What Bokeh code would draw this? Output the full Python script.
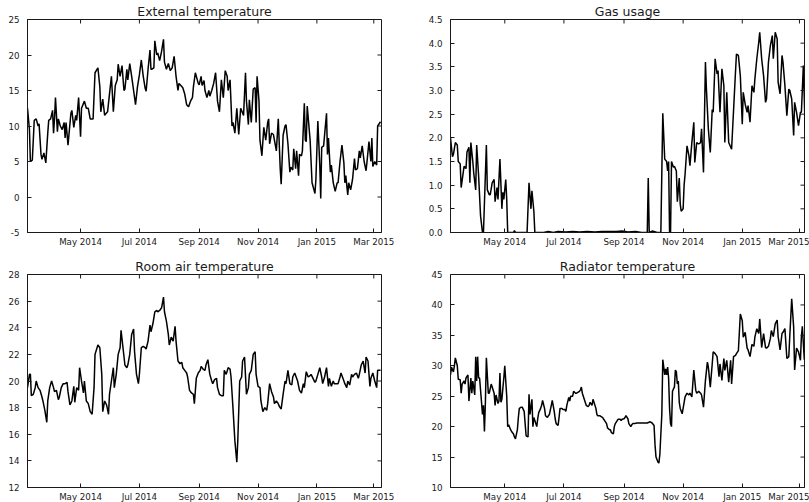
from datetime import datetime, timedelta
from bokeh.plotting import figure
from bokeh.layouts import column, row
from bokeh.models import (Range1d, MonthsTicker, DatetimeTickFormatter,
                          SingleIntervalTicker, NumeralTickFormatter,
                          ColumnDataSource)
from bokeh.embed import file_html
from bokeh.resources import INLINE

START = datetime(2014, 3, 7)   # day 0 of all series

# (day offset from START, value)
external_temp = [(0,12.5),(2,9.5),(3,5),(5,5.2),(7,10.8),(9,11),(11,10),(12,10.3),(14,6),(15,5.3),(17,6.2),(19,4.8),(21,9),(22,10.8),(24,11),(26,12.2),(27,9),(28,11),(29,14),(31,9.2),(32,11),(34,10),(36,9.5),(38,10.5),(39,8.3),(40,10.5),(42,7.3),(45,11.8),(46,12.2),(48,9.8),(50,11.5),(51,10.8),(53,14),(55,8.5),(56,12.5),(59,13.5),(61,12.5),(63,12.5),(65,11),(68,11),(70,17.5),(73,18.2),(75,15.5),(76,12),(78,13.8),(80,11.5),(81,11.7),(83,12),(85,14.5),(87,17),(89,12),(91,15.7),(93,16.5),(94,18.7),(96,17),(98,18.5),(100,15),(101,15.2),(103,18),(104,16.5),(106,18.8),(108,17),(110,15),(112,13),(114,15.5),(116,17.2),(118,19.3),(120,17),(122,15.3),(123,14.9),(125,18),(127,20.7),(128,18),(129,18),(131,18.2),(132,22),(134,20),(135,20.3),(137,19.2),(139,20.5),(141,22.2),(142,19),(144,18),(146,18.8),(148,17.8),(150,18.2),(152,19.8),(154,17),(156,15),(157,16),(159,15.7),(161,15.4),(163,14.5),(165,13),(167,12.7),(169,13.5),(171,14),(172,15.5),(174,17.5),(177,16),(178,15.8),(180,17),(181,15.7),(183,16.4),(184,15),(186,14),(188,15),(189,14.2),(191,15),(193,16),(195,17.5),(197,13.5),(199,12),(201,16.5),(203,14),(205,17.8),(207,17),(208,15),(210,16.5),(212,10),(213,10.5),(215,9),(217,12.5),(219,8.8),(221,12.5),(224,11.5),(226,17.5),(227,13.5),(229,10.2),(230,13.7),(232,10.5),(234,15.2),(236,15.4),(237,10.5),(238,17),(240,13.5),(241,8),(243,5.8),(245,9.8),(247,8),(249,10.5),(250,11),(251,7.5),(253,9),(255,8.8),(256,8),(258,6.5),(260,11),(262,4),(263,1.8),(265,8.7),(267,10),(268,10.2),(270,7.5),(272,3.5),(273,4.2),(275,3.8),(276,6.8),(278,4),(279,6.5),(281,3),(282,6),(284,5.8),(285,6.5),(287,13.2),(288,8),(289,7.8),(290,12.8),(293,8),(295,2),(298,0.5),(299,2.5),(301,10.7),(303,4.5),(304,-0.2),(305,7),(307,7.2),(310,11.8),(311,6),(312,8.3),(314,3.5),(315,4.5),(317,2),(319,0.8),(321,2),(322,2),(324,5),(326,7.3),(328,4.8),(329,2),(330,3),(332,0.3),(333,2),(335,1),(337,2.5),(339,5.4),(340,3.8),(342,4),(344,6.5),(345,5.5),(347,7.2),(349,5),(351,3.7),(352,5),(354,7.8),(356,5),(357,8.3),(358,4.3),(360,5),(362,4.5),(363,10),(366,10.6)]

gas_usage = [(-1,2.0),(1,1.6),(2,1.65),(4,1.9),(6,1.85),(7,1.5),(9,1.45),(10,0.95),(12,1.25),(13,1.4),(15,1.35),(16,1.7),(18,1.8),(19,1.05),(20,1.9),(22,1.5),(23,1.25),(25,0.9),(26,1.85),(28,1.2),(30,0.35),(32,0.0),(33,0.0),(36,1.85),(37,0.9),(39,0.8),(40,0.8),(42,1.05),(44,1.12),(45,0.65),(47,0.95),(48,0.7),(50,1.55),(52,0.5),(53,0.85),(54,0.7),(56,1.12),(57,0.7),(58,0.0),(61,0.0),(64,0.0),(65,0.04),(66,0.0),(78,0.0),(80,1.05),(82,0.5),(83,0.88),(85,0.45),(86,0.0),(95,0.0),(100,0.02),(105,0.0),(110,0.02),(118,0.01),(125,0.02),(132,0.01),(140,0.02),(148,0.01),(155,0.02),(162,0.02),(170,0.02),(176,0.03),(182,0.01),(190,0.02),(196,0.0),(200,0.0),(202,0.0),(203,1.15),(204,0.0),(207,0.03),(209,0.02),(212,0.0),(216,0.0),(218,2.52),(220,1.55),(222,1.5),(223,1.3),(224,1.5),(225,0.0),(226,0.0),(227,1.5),(229,1.38),(230,1.4),(232,1.3),(233,0.65),(235,1.15),(236,0.6),(237,0.45),(239,0.5),(240,1.0),(241,1.23),(243,1.83),(245,1.62),(246,1.41),(248,1.9),(250,2.33),(251,1.48),(253,1.9),(255,1.87),(257,1.9),(258,2.19),(260,1.27),(262,3.6),(263,3.03),(265,2.19),(267,1.69),(269,2.6),(270,2.54),(272,3.67),(274,3.35),(275,3.42),(277,2.54),(279,3.46),(281,3.1),(282,1.9),(284,2.96),(286,1.9),(289,1.76),(293,3.39),(294,3.77),(296,3.74),(298,3.31),(300,2.29),(301,2.96),(303,2.71),(305,2.54),(306,2.68),(308,2.33),(310,3.1),(312,2.96),(313,3.24),(315,3.67),(317,4.02),(318,4.23),(320,3.67),(322,3.31),(324,2.75),(325,2.82),(327,3.6),(329,3.95),(331,4.16),(332,3.67),(334,4.23),(336,4.09),(337,3.17),(339,2.93),(341,3.74),(342,3.6),(344,3.1),(346,2.47),(348,3.03),(349,3.0),(351,2.82),(353,2.05),(354,2.75),(356,2.54),(358,2.26),(360,2.54),(361,2.54),(363,3.53),(365,2.1)]

room_temp = [(0,19.5),(2,20.5),(3,20.5),(4,18.9),(6,19),(8,19.5),(9,20),(11,19.5),(13,19.3),(15,18.8),(16,18.5),(18,17.8),(20,16.9),(21,18.5),(23,19.5),(25,20),(27,19.5),(28,19.2),(30,19.3),(32,18.6),(33,18.8),(35,19.5),(37,19.8),(39,19.8),(41,19.9),(42,19.2),(44,18.2),(46,18.5),(48,19.6),(49,18.4),(51,19.5),(53,19.3),(54,21),(56,20),(58,19.1),(59,20),(61,18.5),(63,18.3),(65,17.7),(67,17.5),(69,19.5),(70,22),(73,22.7),(75,22.5),(77,20.5),(78,17.7),(80,18.5),(82,18.2),(84,17.5),(85,19),(87,20),(89,21),(90,19.5),(92,20.5),(94,22),(96,22.5),(97,23.8),(99,22.5),(101,21.2),(103,21),(104,21.2),(106,22),(108,23.5),(110,23.9),(111,22.2),(113,20.5),(115,19.8),(116,20.5),(118,22.5),(120,22.6),(122,22.5),(123,22.4),(125,23),(127,24.2),(128,23.7),(130,24.3),(132,25.2),(134,25.3),(135,25.2),(137,25.3),(139,25.5),(141,26.3),(142,25.2),(144,24.5),(146,23.5),(147,22.7),(149,23.3),(151,23),(153,24.1),(154,23),(156,21.5),(158,21.3),(160,21.4),(161,21),(163,20.8),(165,20.6),(166,20.3),(168,19.3),(170,19.1),(172,19),(173,18.3),(175,20.2),(177,20.6),(179,20.8),(180,21.1),(182,20.9),(184,20.8),(185,21.2),(187,21.6),(189,20.5),(191,20),(192,19.8),(194,20.1),(196,20.2),(197,19.5),(199,19),(201,18.9),(203,18.9),(204,20.8),(206,20.5),(208,21),(210,20.9),(211,20.3),(213,18),(215,15.5),(217,13.9),(218,15.5),(220,20),(222,20.3),(223,21.5),(225,21.8),(227,19),(229,19.5),(230,20.5),(232,20.8),(234,22),(236,22.2),(237,20.5),(239,19.6),(241,19.5),(242,18.5),(244,17.7),(246,18),(248,17.8),(249,18.3),(251,19.8),(253,19.2),(255,18.8),(256,18.3),(258,18.5),(260,18.3),(261,18.1),(263,17.9),(265,19),(267,20),(268,19.8),(270,20.8),(272,19.8),(274,19.7),(275,20.3),(277,20.6),(279,20.2),(280,20),(282,19.3),(284,19.1),(286,19.8),(287,19.5),(289,20.7),(291,20.3),(293,20.4),(294,20.5),(296,20.2),(298,19.9),(299,20),(301,20.5),(303,21),(305,20.3),(306,19.8),(308,20.3),(310,21),(312,19.6),(313,20.2),(315,19.6),(317,20),(318,19.8),(320,19.8),(322,19.8),(324,20.3),(325,20.6),(327,20.2),(329,19.8),(331,19.5),(332,20),(334,19.7),(336,20.5),(337,20.3),(339,20.5),(341,20.6),(343,20.2),(344,20.5),(346,21.2),(348,21.5),(350,20.6),(351,21.8),(353,21.5),(355,19.6),(356,20.2),(358,20.6),(360,20),(362,19.5),(363,20.8),(366,20.8)]

radiator_temp = [(-1,28.5),(0,29.8),(2,29),(3,30),(4,31.3),(6,30),(7,27.8),(9,27.7),(10,25.5),(11,27),(13,27.5),(14,27),(15,28),(17,28.5),(18,24.2),(20,28),(21,25.5),(22,27.5),(24,25.2),(25,31.5),(26,27.5),(27,31.5),(28,28),(29,28),(31,24),(32,22),(33,23.5),(34,19.2),(35,24),(36,31.3),(38,25.5),(39,25.5),(41,27),(42,26.5),(44,25.5),(45,23.5),(46,25.2),(48,23.8),(49,24.2),(50,28.8),(51,24),(52,24.5),(54,28),(55,30),(57,25),(58,20),(59,20.3),(61,19.5),(62,19.2),(64,18.8),(65,18.3),(66,18),(68,19.5),(69,21.5),(70,23),(72,23.2),(73,23.2),(75,22.5),(76,20.5),(77,18.5),(79,18.3),(80,25.3),(81,22),(83,24.5),(84,20),(85,21.5),(86,21),(88,20),(89,21.3),(90,22.3),(92,23),(93,23.5),(94,24.3),(96,23),(97,21.8),(99,21.5),(100,21.8),(101,22),(103,23.5),(104,24.3),(106,22.5),(107,21.3),(108,20.5),(110,20.2),(111,21.5),(112,23),(114,23),(115,22.8),(117,22.8),(118,22.5),(119,23.5),(121,24.8),(122,24.2),(123,25),(125,25),(126,25.8),(128,25.5),(129,25.5),(130,25.6),(132,25.8),(133,26),(134,26.5),(135,25.5),(136,25),(138,24),(139,23.5),(141,23.3),(142,23.5),(143,24),(145,23.5),(146,24.5),(147,24),(149,23),(150,22),(151,21.8),(153,21.8),(154,21.7),(156,21.5),(157,21.2),(158,21),(160,20.5),(161,19.8),(163,19.5),(164,19.5),(165,19),(167,18.8),(168,20),(169,20.5),(171,21),(172,21.2),(174,21.2),(175,21),(176,21.2),(178,21.3),(179,21.5),(180,21.8),(182,21.3),(183,20.5),(185,20),(186,20.3),(187,20.5),(189,20.5),(191,20.6),(195,20.6),(202,20.6),(205,20.8),(207,20.6),(209,20.2),(210,17),(211,15),(213,14.2),(214,14),(215,15.5),(217,22),(218,31),(220,28.5),(221,29.5),(222,28.5),(223,29.8),(224,28),(225,23),(226,20.5),(227,20),(228,25.8),(229,26.2),(230,26.5),(231,29.3),(232,29),(233,27),(234,27.5),(235,24),(236,23),(238,22.1),(241,24.9),(243,25.5),(245,25.2),(246,25.5),(248,24.9),(250,29.3),(252,26),(253,25.5),(255,25.8),(257,25.5),(258,25.2),(260,23.2),(262,27.6),(264,30.6),(265,29.8),(267,26.5),(269,30.3),(270,32.3),(272,32),(274,31.5),(276,28.2),(277,30.3),(279,27.6),(281,31.2),(282,29.25),(284,30.9),(286,27.3),(288,30.9),(289,27),(291,31.5),(293,31.7),(294,32),(296,32.5),(298,38.5),(300,37.4),(301,34.7),(303,35.5),(305,32.9),(306,32.6),(308,31.5),(310,33.5),(312,33.2),(313,34.7),(315,36.1),(317,35.3),(318,37.7),(320,33),(322,35.3),(324,33),(325,32.9),(327,33.2),(329,34.5),(330,35.8),(332,34.8),(334,36.9),(336,37.5),(337,34.8),(339,32.6),(341,35.3),(342,35.5),(344,36.1),(346,31.2),(348,31.5),(349,34.8),(351,41),(353,36.4),(354,29.3),(356,32.9),(358,32.3),(360,30.9),(361,34.8),(362,36.5),(364,31)]

titles = ["External temperature", "Gas usage", "Room air temperature", "Radiator temperature"]
y_limits = [(-5, 25, 5), (0, 4.5, 0.5), (12, 28, 2), (10, 45, 5)]
y_formats = ["0", "0.0", "0", "0"]
tick_months = [1, 3, 5, 7, 9, 11]      # ticks on the first of these months
tick_years = [2014, 2015]

FONT = "DejaVu Sans"
INK = "#1a1a1a"
FW, FH = 354, 213      # frame size in px
TICK = 4               # inward tick length in px


def make(title, pairs, ylim, yfmt, xdays, borders):
    x0 = START + timedelta(days=xdays[0])
    x1 = START + timedelta(days=xdays[1])
    ymin, ymax, ystep = ylim
    bl, br, bt, bb = borders
    p = figure(frame_width=FW, frame_height=FH, output_backend="svg",
               toolbar_location=None, x_axis_type="datetime",
               x_range=Range1d(x0, x1), y_range=Range1d(ymin, ymax),
               min_border_left=bl, min_border_right=br,
               min_border_top=bt, min_border_bottom=bb,
               background_fill_color="white", border_fill_color="white")
    p.title.text = title
    p.title.text_font = FONT
    p.title.text_font_size = "12.5px"
    p.title.text_font_style = "normal"
    p.title.text_color = INK
    p.title.align = "center"
    p.title.standoff = 2
    p.grid.visible = False
    p.outline_line_color = INK
    p.outline_line_width = 1

    xs = [START + timedelta(days=d) for d, _ in pairs]
    ys = [v for _, v in pairs]
    p.line("x", "y", source=ColumnDataSource(dict(x=xs, y=ys)),
           line_color="black", line_width=1.5)

    mt = MonthsTicker(months=[m - 1 for m in tick_months])
    fmt = DatetimeTickFormatter(days="%b %Y", months="%b %Y", years="%b %Y")
    yt = SingleIntervalTicker(interval=ystep)

    def style(ax):
        ax.axis_line_color = INK
        ax.major_tick_in = TICK
        ax.major_tick_out = 0
        ax.major_tick_line_color = INK
        ax.minor_tick_line_color = None
        ax.major_label_text_font = FONT
        ax.major_label_text_font_size = "8.7px"
        ax.major_label_text_color = INK
        ax.major_label_standoff = 4

    xa = p.xaxis[0]
    xa.ticker = mt
    xa.formatter = fmt
    style(xa)
    ya = p.yaxis[0]
    ya.ticker = yt
    ya.formatter = NumeralTickFormatter(format=yfmt)
    style(ya)

    # matching inward ticks on the top and right edges of the frame
    xt = [datetime(yr, m, 1) for yr in tick_years for m in tick_months]
    xt = [t for t in xt if x0 <= t <= x1]
    dy = (ymax - ymin) * TICK / FH
    p.segment(x0=xt, y0=[ymax] * len(xt), x1=xt, y1=[ymax - dy] * len(xt),
              line_color=INK, line_width=1)
    n = int(round((ymax - ymin) / ystep))
    yv = [ymin + i * ystep for i in range(n + 1)]
    dx = (x1 - x0) * TICK / FW
    p.segment(x0=[x1] * len(yv), y0=yv, x1=[x1 - dx] * len(yv), y1=yv,
              line_color=INK, line_width=1)
    return p


left_days = (0, 367)
right_days = (-1, 364.2)

p1 = make(titles[0], external_temp, y_limits[0], y_formats[0], left_days, (27, 29, 19, 18))
p2 = make(titles[1], gas_usage, y_limits[1], y_formats[1], right_days, (40, 5, 19, 18))
p3 = make(titles[2], room_temp, y_limits[2], y_formats[2], left_days, (27, 29, 24, 15))
p4 = make(titles[3], radiator_temp, y_limits[3], y_formats[3], right_days, (40, 5, 24, 15))

layout = column(row(p1, p2), row(p3, p4))
open("out.html", "w").write(file_html(layout, INLINE))
